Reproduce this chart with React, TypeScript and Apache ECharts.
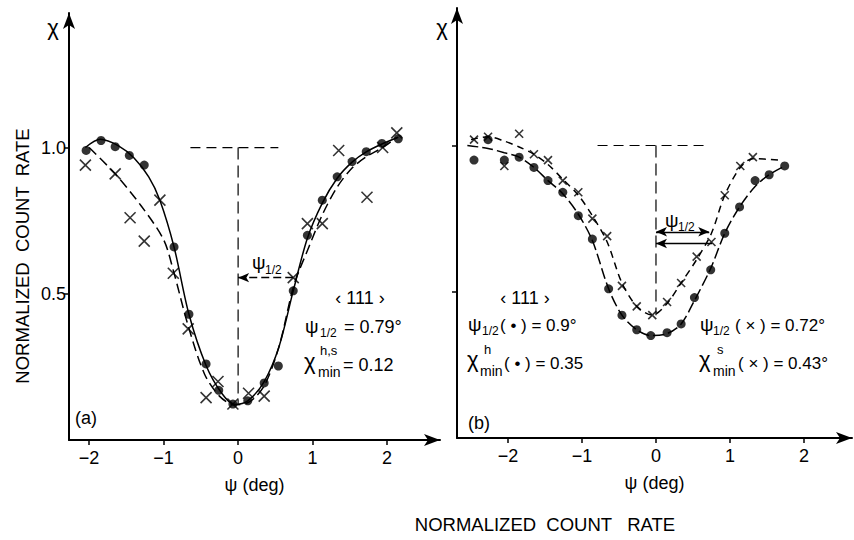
import React, { useEffect, useRef } from 'react';
import * as echarts from 'echarts';

const FONT = '"Liberation Sans", Arial, sans-serif';

// ---------- Panel (a) ----------
const aDots: number[][] = [
  [-2.04, 0.99], [-1.84, 1.024], [-1.65, 1.003], [-1.46, 0.973], [-1.26, 0.94],
  [-0.86, 0.66], [-0.66, 0.43], [-0.43, 0.26], [-0.26, 0.17], [-0.07, 0.123],
  [0.13, 0.134], [0.35, 0.195], [0.54, 0.253], [0.74, 0.51], [0.93, 0.70],
  [1.13, 0.82], [1.33, 0.90], [1.53, 0.952], [1.72, 0.986], [1.93, 1.014], [2.15, 1.03],
];
const aCrosses: number[][] = [
  [-2.05, 0.94], [-1.65, 0.91], [-1.45, 0.76], [-1.26, 0.68], [-1.05, 0.82],
  [-0.87, 0.57], [-0.67, 0.38], [-0.43, 0.145], [-0.27, 0.2], [-0.07, 0.123],
  [0.14, 0.16], [0.35, 0.15], [0.74, 0.555], [0.93, 0.74], [1.13, 0.74],
  [1.35, 0.99], [1.73, 0.83], [1.94, 1.0], [2.13, 1.05],
];
const aSolidCurve: number[][] = [
  [-2.05, 1.0], [-1.85, 1.028], [-1.6, 1.005], [-1.4, 0.965], [-1.2, 0.9],
  [-1.05, 0.82], [-0.86, 0.66], [-0.66, 0.43], [-0.43, 0.255], [-0.22, 0.16],
  [-0.05, 0.122], [0.13, 0.134], [0.35, 0.2], [0.55, 0.32], [0.74, 0.51],
  [0.93, 0.69], [1.13, 0.81], [1.33, 0.895], [1.53, 0.95], [1.72, 0.985],
  [1.93, 1.012], [2.15, 1.035],
];
const aDashedCurve: number[][] = [
  [-2.0, 1.0], [-1.65, 0.91], [-1.3, 0.8], [-1.0, 0.685], [-0.87, 0.58],
  [-0.67, 0.39], [-0.45, 0.225], [-0.25, 0.15], [-0.05, 0.12], [0.15, 0.13],
  [0.35, 0.185], [0.55, 0.32], [0.75, 0.53], [0.95, 0.66], [1.13, 0.77],
  [1.33, 0.865], [1.53, 0.93], [1.73, 0.97], [1.94, 1.0], [2.13, 1.035],
];
const aRefH: number[][] = [[-0.64, 1.0], [0.54, 1.0]];
const aRefV: number[][] = [[0, 1.0], [0, 0.12]];
const aHalfArrow: number[][] = [[0.74, 0.555], [0, 0.555]];

// ---------- Panel (b) ----------
const bDots: number[][] = [
  [-2.46, 0.95], [-2.27, 1.02], [-2.05, 0.95], [-1.85, 0.96], [-1.65, 0.925],
  [-1.46, 0.88], [-1.26, 0.84], [-1.05, 0.76], [-0.86, 0.68], [-0.64, 0.51],
  [-0.46, 0.42], [-0.26, 0.37], [-0.07, 0.35], [0.15, 0.36], [0.34, 0.39],
  [0.52, 0.48], [0.74, 0.575], [0.93, 0.7], [1.13, 0.79], [1.34, 0.88],
  [1.53, 0.9], [1.74, 0.93],
];
const bCrosses: number[][] = [
  [-2.46, 1.02], [-2.27, 1.03], [-2.05, 0.93], [-1.85, 1.04], [-1.65, 0.97],
  [-1.46, 0.95], [-1.26, 0.88], [-1.05, 0.84], [-0.86, 0.75], [-0.66, 0.69],
  [-0.46, 0.52], [-0.26, 0.45], [-0.05, 0.42], [0.15, 0.465], [0.34, 0.53],
  [0.55, 0.62], [0.75, 0.67], [0.93, 0.83], [1.14, 0.93], [1.31, 0.96],
];
const bDotCurve: number[][] = [
  [-2.55, 1.0], [-2.27, 0.99], [-2.05, 0.975], [-1.85, 0.96], [-1.65, 0.925],
  [-1.46, 0.88], [-1.26, 0.835], [-1.05, 0.765], [-0.86, 0.675], [-0.64, 0.51],
  [-0.46, 0.42], [-0.26, 0.37], [-0.07, 0.35], [0.15, 0.357], [0.34, 0.39],
  [0.52, 0.47], [0.74, 0.58], [0.93, 0.7], [1.13, 0.79], [1.34, 0.86],
  [1.53, 0.9], [1.74, 0.93],
];
const bCrossCurve: number[][] = [
  [-2.5, 1.02], [-2.27, 1.03], [-2.05, 1.015], [-1.85, 0.995], [-1.65, 0.97],
  [-1.46, 0.935], [-1.26, 0.885], [-1.05, 0.83], [-0.86, 0.76], [-0.66, 0.67],
  [-0.46, 0.53], [-0.26, 0.45], [-0.05, 0.42], [0.15, 0.46], [0.34, 0.53],
  [0.55, 0.61], [0.75, 0.7], [0.93, 0.83], [1.14, 0.925], [1.31, 0.955],
  [1.65, 0.95],
];
const bRefH: number[][] = [[-0.79, 1.0], [0.66, 1.0]];
const bRefV: number[][] = [[0, 1.0], [0, 0.42]];
const bArrowUpper: number[][] = [[0, 0.705], [0.72, 0.705]];
const bArrowLower: number[][] = [[0.76, 0.665], [0, 0.665]];

const xTicks = [-2, -1, 0, 1, 2];
const yTicks = [0.5, 1.0];

const CROSS = 'path://M0,0L10,10M10,0L0,10';

function fmtX(v: number) {
  return v < 0 ? '\u2212' + Math.abs(v) : String(v);
}

function txt(text: string, x: number, y: number, size = 17, align = 'left', extra: any = {}) {
  return {
    type: 'text',
    x,
    y,
    silent: true,
    ...extra,
    style: {
      text,
      fontFamily: FONT,
      fontSize: size,
      fill: '#000',
      align,
      verticalAlign: 'middle',
    },
  };
}

function xAxisCfg(gridIndex: number, min: number, max: number) {
  return {
    type: 'value',
    gridIndex,
    min,
    max,
    name: '\u03c8 (deg)',
    nameLocation: 'middle',
    nameGap: 36,
    nameTextStyle: { fontFamily: FONT, fontSize: 18, color: '#000' },
    axisLine: {
      show: true,
      onZero: false,
      symbol: ['none', 'arrow'],
      symbolSize: [9, 16],
      lineStyle: { color: '#000', width: 2 },
    },
    axisTick: { show: true, length: 5, customValues: xTicks, lineStyle: { color: '#000', width: 1.5 } },
    axisLabel: {
      customValues: xTicks,
      formatter: fmtX,
      fontFamily: FONT,
      fontSize: 18,
      color: '#000',
      margin: 9,
    },
    splitLine: { show: false },
  };
}

function yAxisCfg(gridIndex: number, max: number, labels: boolean) {
  return {
    type: 'value',
    gridIndex,
    min: 0,
    max,
    axisLine: {
      show: true,
      onZero: false,
      symbol: ['none', 'arrow'],
      symbolSize: [9, 16],
      lineStyle: { color: '#000', width: 2 },
    },
    axisTick: { show: true, length: 5, customValues: yTicks, lineStyle: { color: '#000', width: 1.5 } },
    axisLabel: {
      show: labels,
      customValues: yTicks,
      formatter: (v: number) => v.toFixed(1),
      fontFamily: FONT,
      fontSize: 18,
      color: '#000',
      margin: 3,
    },
    splitLine: { show: false },
  };
}

function curve(name: string, data: number[][], idx: number, type: any, width = 1.5, smooth: any = 0.3) {
  return {
    name,
    type: 'line',
    xAxisIndex: idx,
    yAxisIndex: idx,
    data,
    smooth,
    showSymbol: false,
    symbol: 'none',
    silent: true,
    lineStyle: { color: '#000', width, type },
    z: 2,
  };
}

function arrow(name: string, pts: number[][], idx: number, symbols: string[], type: any) {
  return {
    name,
    type: 'line',
    xAxisIndex: idx,
    yAxisIndex: idx,
    data: [],
    silent: true,
    markLine: {
      silent: true,
      symbol: symbols,
      symbolSize: [7, 11],
      label: { show: false },
      lineStyle: { color: '#000', width: 1.3, type },
      data: [[{ coord: pts[0] }, { coord: pts[1] }]],
    },
  };
}

function scatter(name: string, data: number[][], idx: number, cross: boolean, size: number) {
  return {
    name,
    type: 'scatter',
    xAxisIndex: idx,
    yAxisIndex: idx,
    data,
    symbol: cross ? CROSS : 'circle',
    symbolSize: size,
    silent: true,
    itemStyle: cross
      ? { color: 'rgba(0,0,0,0)', borderColor: '#000', borderWidth: 1.6 }
      : { color: '#000' },
    z: 5,
  };
}

export default function App() {
  const ref = useRef<HTMLDivElement>(null);
  useEffect(() => {
    if (!ref.current) return;
    const chart = echarts.init(ref.current, null, { renderer: 'svg' });
    chart.setOption({
      animation: false,
      backgroundColor: '#fff',
      textStyle: { fontFamily: FONT },
      grid: [
        { left: 69, right: 414, top: 13, bottom: 100 },
        { left: 457, right: 2, top: 8, bottom: 102 },
      ],
      xAxis: [xAxisCfg(0, -2.27, 2.71), xAxisCfg(1, -2.69, 2.65)],
      yAxis: [yAxisCfg(0, 1.46, true), yAxisCfg(1, 1.47, false)],
      series: [
        curve('a-solid', aSolidCurve, 0, 'solid'),
        curve('a-dashed', aDashedCurve, 0, [10, 5]),
        curve('a-ref-h', aRefH, 0, [10, 6], 1.2, false),
        curve('a-ref-v', aRefV, 0, [12, 6], 1.2, false),
        arrow('a-half', aHalfArrow, 0, ['none', 'arrow'], [8, 4]),
        scatter('a-dots', aDots, 0, false, 9),
        scatter('a-crosses', aCrosses, 0, true, 11),

        curve('b-dot-curve', bDotCurve, 1, [11, 4]),
        curve('b-cross-curve', bCrossCurve, 1, [7, 5]),
        curve('b-ref-h', bRefH, 1, [10, 6], 1.2, false),
        curve('b-ref-v', bRefV, 1, [12, 6], 1.2, false),
        arrow('b-upper', bArrowUpper, 1, ['arrow', 'arrow'], 'solid'),
        arrow('b-lower', bArrowLower, 1, ['none', 'arrow'], 'solid'),
        scatter('b-dots', bDots, 1, false, 9),
        scatter('b-crosses', bCrosses, 1, true, 8),
      ],
      graphic: [
        txt('\u03c7', 53, 27, 22, 'center'),
        txt('\u03c7', 442, 27, 22, 'center'),
        txt('NORMALIZED  COUNT  RATE', 22, 256, 18.5, 'center', { rotation: Math.PI / 2 }),
        txt('NORMALIZED  COUNT   RATE', 545, 524, 18.5, 'center'),
        txt('(a)', 75, 418, 18),
        txt('(b)', 468, 423, 18),
        // panel (a) annotations
        txt('\u03c8', 252, 262, 19),
        txt('1/2', 265, 270, 12),
        txt('\u2039 111 \u203a', 360, 298, 18, 'center'),
        txt('\u03c8', 305, 326, 19),
        txt('1/2', 320, 333, 12),
        txt('= 0.79\u00b0', 344, 327, 18),
        txt('\u03c7', 304, 361, 22),
        txt('h,s', 320, 350, 13),
        txt('min', 318, 372, 14),
        txt('= 0.12', 343, 365, 18),
        // panel (b) annotations
        txt('\u03c8', 665, 220, 19),
        txt('1/2', 678, 227, 12),
        txt('\u2039 111 \u203a', 525, 298, 18, 'center'),
        txt('\u03c8', 468, 324, 19),
        txt('1/2', 482, 331, 12),
        txt('( \u2022 ) = 0.9\u00b0', 500, 325, 17),
        txt('\u03c7', 467, 359, 22),
        txt('h', 484, 349, 13),
        txt('min', 480, 371, 14),
        txt('( \u2022 ) = 0.35', 504, 363, 17),
        txt('\u03c8', 700, 324, 19),
        txt('1/2', 713, 331, 12),
        txt('( \u00d7 ) = 0.72\u00b0', 735, 325, 17),
        txt('\u03c7', 699, 359, 22),
        txt('s', 717, 349, 13),
        txt('min', 713, 371, 14),
        txt('( \u00d7 ) = 0.43\u00b0', 738, 363, 17),
      ],
    });
    return () => chart.dispose();
  }, []);
  return (
    <div
      ref={ref}
      style={{ position: 'absolute', left: 0, top: 0, width: 854, height: 540 }}
    />
  );
}
